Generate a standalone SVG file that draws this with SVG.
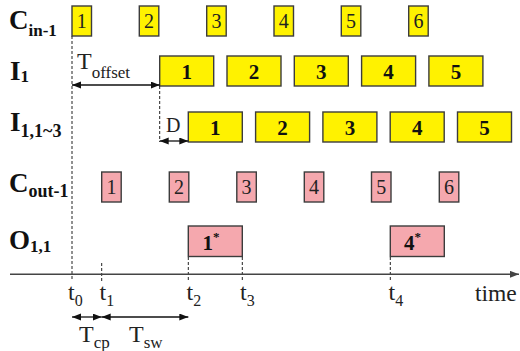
<svg xmlns="http://www.w3.org/2000/svg" width="520" height="351" viewBox="0 0 520 351">
<style>
.y{fill:#FFF200;stroke:#3c3c3c;stroke-width:1.4}
.p{fill:#F5A8AE;stroke:#3c3c3c;stroke-width:1.4}
.n{font-size:20px;fill:#222;text-anchor:middle}
.b{font-size:21px;font-weight:bold;fill:#111;text-anchor:middle}
.lab{font-weight:bold;fill:#111}
.t{fill:#222}
.dash{stroke:#222;stroke-width:1;stroke-dasharray:3,2;fill:none}
.arr{stroke:#111;stroke-width:1.3;fill:none;marker-start:url(#ah);marker-end:url(#ah)}
</style>
<defs>
<marker id="ah" markerUnits="userSpaceOnUse" markerWidth="10" markerHeight="8" refX="9" refY="3.5" orient="auto-start-reverse">
<path d="M0,0 L9,3.5 L0,7 Z" fill="#111"/>
</marker>
<marker id="axh" markerUnits="userSpaceOnUse" markerWidth="10" markerHeight="8" refX="9" refY="3.5" orient="auto">
<path d="M0,0 L9,3.5 L0,7 Z" fill="#444"/>
</marker>
</defs>
<g font-family="Liberation Serif, Times New Roman, DejaVu Serif, serif">
<g id="labels">
<text class="lab" x="9" y="28.5" font-size="27">C<tspan font-size="17" dy="7">in-1</tspan></text>
<text class="lab" x="10" y="80" font-size="27">I<tspan font-size="17" dy="2">1</tspan></text>
<text class="lab" x="10" y="131" font-size="27">I<tspan font-size="18" dy="6">1,1~3</tspan></text>
<text class="lab" x="9" y="191.5" font-size="27">C<tspan font-size="18" dy="5.5">out-1</tspan></text>
<text class="lab" x="9" y="248.5" font-size="27">O<tspan font-size="17" dy="3.5">1,1</tspan></text>
</g>

<g id="cin">
<rect class="y" x="72" y="6" width="19.5" height="30"/><text class="n" x="81.8" y="28">1</text>
<rect class="y" x="139.3" y="6" width="19.5" height="30"/><text class="n" x="149" y="28">2</text>
<rect class="y" x="206.7" y="6" width="19.5" height="30"/><text class="n" x="216.5" y="28">3</text>
<rect class="y" x="274" y="6" width="19.5" height="30"/><text class="n" x="283.8" y="28">4</text>
<rect class="y" x="341.3" y="6" width="19.5" height="30"/><text class="n" x="351" y="28">5</text>
<rect class="y" x="408.7" y="6" width="19.5" height="30"/><text class="n" x="418.5" y="28">6</text>
</g>

<g id="i1">
<rect class="y" x="159.7" y="56" width="54" height="30"/><text class="b" x="186.7" y="78.5">1</text>
<rect class="y" x="227" y="56" width="54" height="30"/><text class="b" x="254" y="78.5">2</text>
<rect class="y" x="294.3" y="56" width="54" height="30"/><text class="b" x="321.3" y="78.5">3</text>
<rect class="y" x="361.6" y="56" width="54" height="30"/><text class="b" x="388.6" y="78.5">4</text>
<rect class="y" x="428.9" y="56" width="54" height="30"/><text class="b" x="455.9" y="78.5">5</text>
</g>

<g id="i113">
<rect class="y" x="188.3" y="112" width="54" height="30"/><text class="b" x="215.3" y="134.5">1</text>
<rect class="y" x="255.6" y="112" width="54" height="30"/><text class="b" x="282.6" y="134.5">2</text>
<rect class="y" x="322.9" y="112" width="54" height="30"/><text class="b" x="349.9" y="134.5">3</text>
<rect class="y" x="390.2" y="112" width="54" height="30"/><text class="b" x="417.2" y="134.5">4</text>
<rect class="y" x="457.5" y="112" width="54" height="30"/><text class="b" x="484.5" y="134.5">5</text>
</g>

<g id="cout">
<rect class="p" x="101.7" y="172" width="19.5" height="30"/><text class="n" x="111.5" y="194">1</text>
<rect class="p" x="169.3" y="172" width="19.5" height="30"/><text class="n" x="179" y="194">2</text>
<rect class="p" x="236.8" y="172" width="19.5" height="30"/><text class="n" x="246.5" y="194">3</text>
<rect class="p" x="304.3" y="172" width="19.5" height="30"/><text class="n" x="314" y="194">4</text>
<rect class="p" x="371.5" y="172" width="19.5" height="30"/><text class="n" x="381.2" y="194">5</text>
<rect class="p" x="439.3" y="172" width="19.5" height="30"/><text class="n" x="449" y="194">6</text>
</g>

<g id="o11">
<rect class="p" x="188.3" y="226" width="54" height="30.5"/>
<text class="b" x="211" y="249.5" text-anchor="start">1<tspan font-size="13" dy="-9">*</tspan></text>
<rect class="p" x="390.3" y="226" width="54" height="30.5"/>
<text class="b" x="412.5" y="249.5" text-anchor="start">4<tspan font-size="13" dy="-9">*</tspan></text>
</g>

<g id="connectors">
<line class="dash" x1="72" y1="36" x2="72" y2="281"/>
<line class="dash" x1="159.7" y1="86" x2="159.7" y2="142"/>
<line class="dash" x1="101.7" y1="263" x2="101.7" y2="281"/>
<line class="dash" x1="188.3" y1="257" x2="188.3" y2="281"/>
<line class="dash" x1="242.3" y1="257" x2="242.3" y2="281"/>
<line class="dash" x1="390.3" y1="257" x2="390.3" y2="281"/>
<line x1="10" y1="274.3" x2="519" y2="274.3" stroke="#444" stroke-width="1.6" marker-end="url(#axh)"/>
<line class="arr" x1="72" y1="85" x2="159.7" y2="85"/>
<line class="arr" x1="159.7" y1="141" x2="188.3" y2="141"/>
<line class="arr" x1="72" y1="317" x2="101.7" y2="317"/>
<line class="arr" x1="101.7" y1="317" x2="188.3" y2="317"/>
</g>

<g id="annotations">
<text class="t" x="77" y="69" font-size="24">T<tspan font-size="17" dy="9">offset</tspan></text>
<text class="t" x="166" y="132" font-size="20">D</text>
<text class="t" x="68" y="300" font-size="24">t<tspan font-size="16" dy="6">0</tspan></text>
<text class="t" x="99.5" y="300" font-size="24">t<tspan font-size="16" dy="6">1</tspan></text>
<text class="t" x="186.5" y="300" font-size="24">t<tspan font-size="16" dy="6">2</tspan></text>
<text class="t" x="240" y="300" font-size="24">t<tspan font-size="16" dy="6">3</tspan></text>
<text class="t" x="388.5" y="300" font-size="24">t<tspan font-size="16" dy="6">4</tspan></text>
<text class="t" x="475" y="301" font-size="23.5">time</text>
<text class="t" x="79" y="342" font-size="24">T<tspan font-size="17" dy="6">cp</tspan></text>
<text class="t" x="129" y="342" font-size="24">T<tspan font-size="17" dy="6">sw</tspan></text>
</g>
</g>
</svg>
